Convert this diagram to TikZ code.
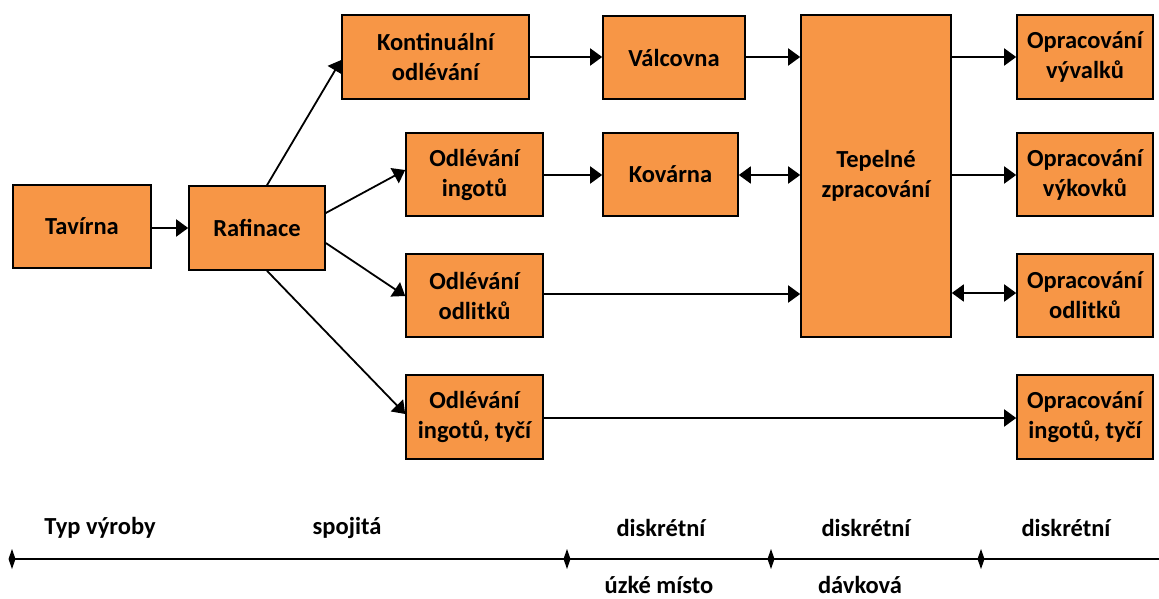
\documentclass[tikz,border=0pt]{standalone}
\usepackage{fontspec}
\setmainfont{Carlito}
\usetikzlibrary{arrows.meta}
\definecolor{boxorange}{HTML}{F79646}
\tikzset{
  x=1pt, y=-1pt,
  proc/.style={draw=black, line width=1.6pt, fill=boxorange, align=center,
    font=\fontsize{24.5}{30}\selectfont\bfseries, inner sep=0pt},
  flow/.style={line width=1.8pt, -{Triangle[length=12pt,width=17pt]}},
  both/.style={line width=1.8pt, {Triangle[length=12pt,width=17pt]}-{Triangle[length=12pt,width=17pt]}},
  axis/.style={line width=2pt},
  lbl/.style={font=\fontsize{24.5}{29}\selectfont\bfseries, inner sep=0pt},
}
\newcommand{\procbox}[6]{% name, x1, y1, x2, y2, text
  \node[proc, minimum width=#4-#2, minimum height=#5-#3] (#1) at ({(#2+#4)/2},{(#3+#5)/2}) {#6};}
\newcommand{\tick}[1]{\fill (#1) ++(0,-10) -- ++(3.5,10) -- ++(-3.5,10) -- ++(-3.5,-10) -- cycle;}
\begin{document}
\begin{tikzpicture}
\useasboundingbox (0,0) rectangle (1159,599);
% process boxes
\procbox{tav}{13}{185}{151}{268}{Tavírna}
\procbox{raf}{189}{186}{325}{270}{Rafinace}
\procbox{kont}{342}{15}{529}{99}{Kontinuální\\odlévání}
\procbox{valc}{603}{16}{745}{99}{Válcovna}
\procbox{ingot}{406}{133}{543}{216}{Odlévání\\ingotů}
\procbox{kov}{603}{133}{738}{216}{Kovárna}
\procbox{odl}{406}{254}{543}{337}{Odlévání\\odlitků}
\procbox{tyc}{406}{375}{543}{459}{Odlévání\\ingotů, tyčí}
\procbox{tep}{801}{15}{951}{337}{Tepelné\\zpracování}
\procbox{opval}{1017}{15}{1153}{99}{Opracování\\vývalků}
\procbox{opkov}{1017}{133}{1153}{216}{Opracování\\výkovků}
\procbox{opodl}{1017}{254}{1153}{337}{Opracování\\odlitků}
\procbox{optyc}{1017}{375}{1153}{459}{Opracování\\ingotů, tyčí}
% connectors
\draw[flow] (tav.east |- 0,228) -- (raf.west |- 0,228);
\draw[flow] (raf.north -| 267,0) -- (kont.west |- 0,60);
\draw[flow] (raf.east |- 0,213) -- (ingot.west |- 0,170);
\draw[flow] (raf.east |- 0,243) -- (odl.west |- 0,296);
\draw[flow] (raf.south -| 267,0) -- (tyc.west |- 0,414);
\draw[flow] (kont.east |- 0,57) -- (valc.west |- 0,57);
\draw[flow] (valc.east |- 0,57) -- (tep.west |- 0,57);
\draw[flow] (ingot.east |- 0,175) -- (kov.west |- 0,175);
\draw[both] (kov.east |- 0,175) -- (tep.west |- 0,175);
\draw[flow] (odl.east |- 0,294) -- (tep.west |- 0,294);
\draw[flow] (tep.east |- 0,57) -- (opval.west |- 0,57);
\draw[flow] (tep.east |- 0,175) -- (opkov.west |- 0,175);
\draw[both] (tep.east |- 0,293) -- (opodl.west |- 0,293);
\draw[flow] (tyc.east |- 0,418) -- (optyc.west |- 0,418);
% production type axis
\coordinate (a0) at (12,559);
\coordinate (a1) at (567,559);
\coordinate (a2) at (771,559);
\coordinate (a3) at (981,559);
\coordinate (aend) at (1159,559);
\draw[axis] (a0) -- (aend);
\tick{a0}\tick{a1}\tick{a2}\tick{a3}
\node[lbl] (typ) at (100,528) {Typ výroby};
\node[lbl] (spoj) at (347,528) {spojitá};
\node[lbl] (d1) at (661,528) {diskrétní};
\node[lbl] (d2) at (866,528) {diskrétní};
\node[lbl] (d3) at (1066,528) {diskrétní};
\node[lbl, anchor=base] (uzke) at (659,593) {úzké místo};
\node[lbl, anchor=base] (davk) at (860,593) {dávková};
\end{tikzpicture}
\end{document}
